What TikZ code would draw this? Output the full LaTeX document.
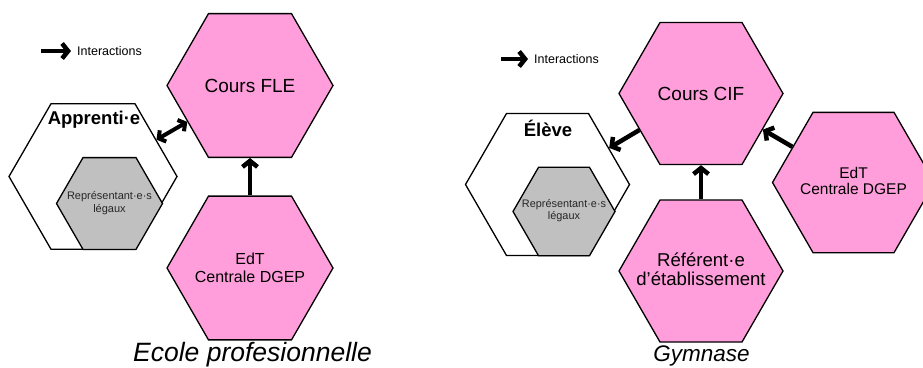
\documentclass[tikz,border=0pt]{standalone}
\usepackage{fontspec}
\setmainfont{Liberation Sans}
\usetikzlibrary{shapes.geometric,arrows.meta}
\definecolor{hexpink}{RGB}{255,158,219}
\definecolor{hexgray}{RGB}{192,192,192}
\newcommand{\fs}[2]{\fontsize{#1}{#2}\selectfont}
\begin{document}
\begin{tikzpicture}[x=1pt,y=-1pt,
  hexa/.style={regular polygon, regular polygon sides=6, draw=black,
    line width=1.3pt, inner sep=0pt},
  pinkhex/.style={hexa, fill=hexpink},
  outerhex/.style={hexa, fill=white},
  innerhex/.style={hexa, fill=hexgray},
  hextext/.style={inner sep=0pt, align=center},
  interact/.style={line width=4.5pt, -{Straight Barb[length=6pt,width=15pt]}},
  interactboth/.style={line width=4pt, {Straight Barb[length=5pt,width=13pt]}-{Straight Barb[length=5pt,width=13pt]}},
  legendtext/.style={anchor=west, inner sep=0pt, font=\fs{12.5}{15}},
  caption/.style={inner sep=0pt, font=\fs{26.5}{30}\itshape},
]
\useasboundingbox (0,0) rectangle (923,367);

% ---------- Ecole professionnelle ----------
\coordinate (legAs) at (41,51);
\node[legendtext] (legA) at (77,51) {Interactions};
\draw[interact] (legAs) -- ([xshift=-6pt]legA.west);

\node[pinkhex, minimum size=166pt] (fle) at (250,85.5) {};
\node[hextext, font=\fs{19}{22}] (fleT) at (fle.center) {Cours FLE};
\node[pinkhex, minimum size=166pt] (edtA) at (250,268) {};
\node[hextext, font=\fs{16}{18}] (edtAT) at (edtA.center) {EdT\\Centrale DGEP};
\node[outerhex, minimum size=168pt] (app) at (93,176.5) {};
\node[hextext, font=\fs{18.5}{22}\bfseries] (appT) at (94,120) {Apprenti·e};
\node[innerhex, minimum size=106pt] (repA) at (109.5,203.5) {};
\node[hextext, text=black!85, font=\fs{11}{13}] (repAT) at (repA.center) {Représentant·e·s\\légaux};

\draw[interact] (edtA) -- (fle);
\draw[interactboth] (app) -- (fle);

\node[caption] (capA) at (252.5,355) {Ecole profesionnelle};

% ---------- Gymnase ----------
\coordinate (legBs) at (501,59);
\node[legendtext] (legB) at (534,59) {Interactions};
\draw[interact] (legBs) -- ([xshift=-6pt]legB.west);

\node[pinkhex, minimum size=164pt] (cif) at (701,93.5) {};
\node[hextext, font=\fs{19}{22}] (cifT) at (cif.center) {Cours CIF};
\node[pinkhex, minimum size=164pt] (ref) at (701,271) {};
\node[hextext, font=\fs{18.6}{19}] (refT) at ([yshift=1.5pt]ref.center) {Référent·e\\d'établissement};
\node[pinkhex, minimum size=162pt] (edtB) at (853.5,182.5) {};
\node[hextext, font=\fs{15.5}{16}] (edtBT) at ([yshift=1.5pt]edtB.center) {EdT\\Centrale DGEP};
\node[outerhex, minimum size=164pt] (eleve) at (547.5,184.5) {};
\node[hextext, font=\fs{18.5}{22}\bfseries] (eleveT) at (548,128) {Élève};
\node[innerhex, minimum size=102pt] (repB) at (564,211.5) {};
\node[hextext, text=black!85, font=\fs{10.9}{12}] (repBT) at ([yshift=1pt]repB.center) {Représentant·e·s\\légaux};

\draw[interact] (cif) -- (eleve);
\draw[interact] (edtB) -- (cif);
\draw[interact] (ref) -- (cif);

\node[caption, font=\fs{22.5}{26}\itshape] (capB) at (701.5,356) {Gymnase};
\end{tikzpicture}
\end{document}
